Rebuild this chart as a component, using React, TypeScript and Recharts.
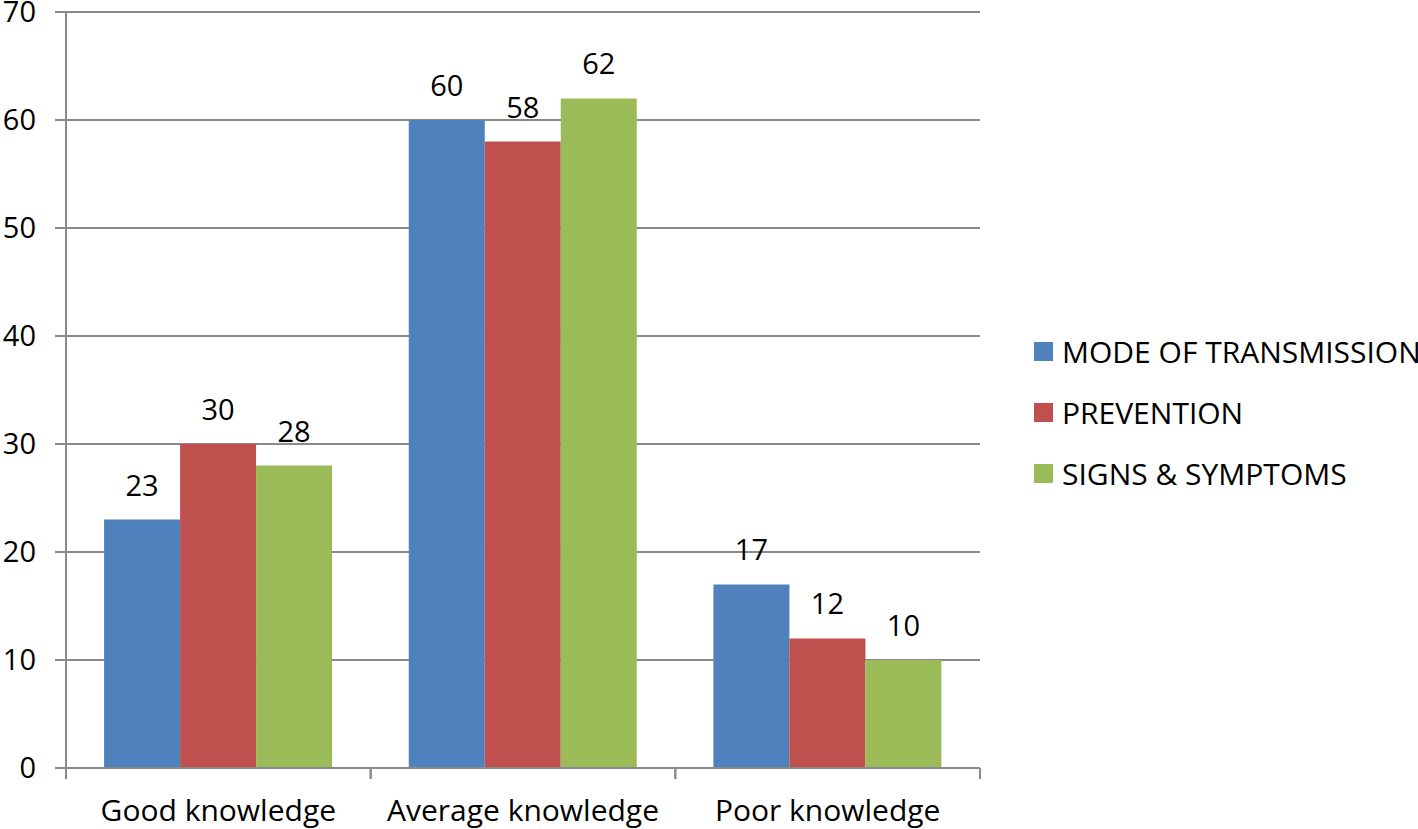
import { BarChart, Bar, XAxis, YAxis, CartesianGrid, LabelList } from "recharts";

const categories = ["Good knowledge", "Average knowledge", "Poor knowledge"];
const modeOfTransmission = [23, 60, 17];
const prevention = [30, 58, 12];
const signsSymptoms = [28, 62, 10];
const yTicks = [0, 10, 20, 30, 40, 50, 60, 70];

const SERIES = [
  { key: "mode", name: "MODE OF TRANSMISSION", color: "#4F81BD" },
  { key: "prev", name: "PREVENTION", color: "#C0504D" },
  { key: "signs", name: "SIGNS & SYMPTOMS", color: "#9BBB59" },
];

const data = categories.map((c, i) => ({
  name: c,
  mode: modeOfTransmission[i],
  prev: prevention[i],
  signs: signsSymptoms[i],
}));

const FONT = "'Open Sans', 'Liberation Sans', sans-serif";
const GRID = "#8a8a8a";

function CategoryTick(props: any) {
  const { x, y, payload } = props;
  const off = payload.offset || 0;
  return (
    <g>
      <line x1={x - off} x2={x - off} y1={y} y2={y + 11} stroke={GRID} strokeWidth={2} />
      <line x1={x + off} x2={x + off} y1={y} y2={y + 11} stroke={GRID} strokeWidth={2} />
      <text x={x} y={y + 53} textAnchor="middle" fontSize={30} fill="#000" fontFamily={FONT}>
        {payload.value}
      </text>
    </g>
  );
}

function LegendBox() {
  return (
    <div
      style={{
        position: "absolute",
        left: 1034,
        top: 321,
        fontFamily: FONT,
        fontSize: 30,
        color: "#000",
        whiteSpace: "nowrap",
      }}
    >
      {SERIES.map((s) => (
        <div key={s.key} style={{ display: "flex", alignItems: "center", height: 61 }}>
          <span style={{ width: 19, height: 19, background: s.color, marginRight: 9, display: "inline-block" }} />
          <span>{s.name}</span>
        </div>
      ))}
    </div>
  );
}

export default function App() {
  return (
    <div style={{ position: "absolute", left: 0, top: 0, width: 1418, height: 829, background: "#fff", overflow: "hidden" }}>
      <BarChart
        width={1418}
        height={829}
        data={data}
        margin={{ top: 12, right: 438, bottom: 11, left: 0 }}
        barCategoryGap="12.5%"
        barGap={0}
      >
        <CartesianGrid horizontal vertical={false} stroke={GRID} strokeWidth={2} />
        <XAxis
          dataKey="name"
          height={50}
          axisLine={{ stroke: GRID, strokeWidth: 2 }}
          tickLine={false}
          tickSize={0}
          tickMargin={0}
          tick={<CategoryTick />}
          interval={0}
        />
        <YAxis
          width={66}
          domain={[0, 70]}
          ticks={yTicks}
          interval={0}
          axisLine={{ stroke: GRID, strokeWidth: 2 }}
          tickLine={{ stroke: GRID, strokeWidth: 2 }}
          tickSize={11}
          tickMargin={19}
          tick={{ fontSize: 29, fill: "#000", fontFamily: FONT }}
        />
        {SERIES.map((s) => (
          <Bar key={s.key} dataKey={s.key} name={s.name} fill={s.color} isAnimationActive={false}>
            <LabelList dataKey={s.key} position="top" offset={24} fontSize={29} fill="#000" fontFamily={FONT} />
          </Bar>
        ))}
      </BarChart>
      <LegendBox />
    </div>
  );
}
